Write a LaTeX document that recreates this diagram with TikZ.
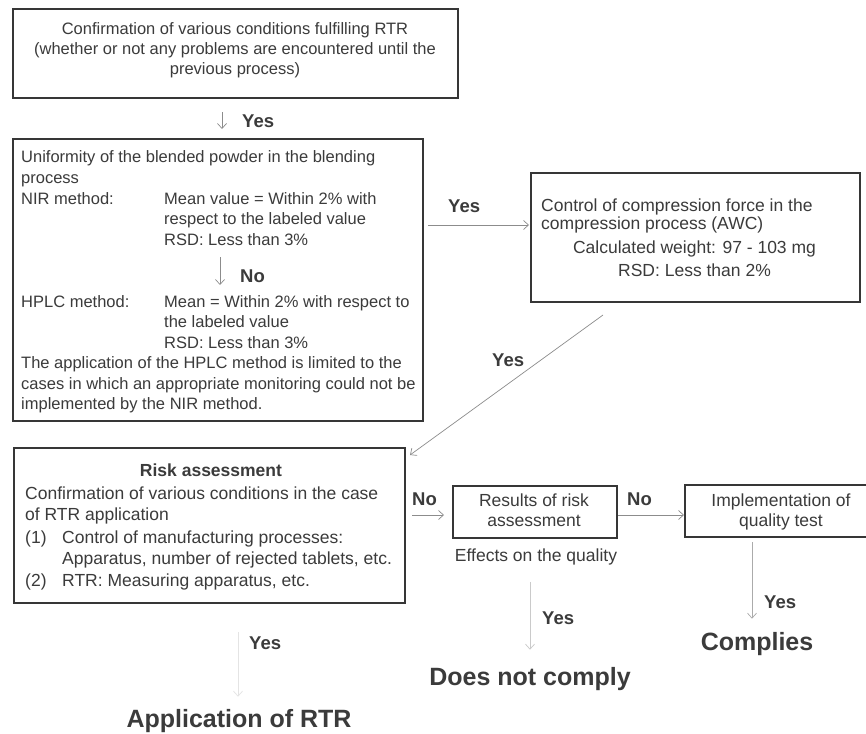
\documentclass[tikz,border=0pt]{standalone}
\usepackage{fontspec}
\setmainfont{Liberation Sans}
\usetikzlibrary{arrows.meta}
\definecolor{ink}{HTML}{3B3B3B}
\definecolor{rule}{HTML}{363636}
\definecolor{wire}{HTML}{8C8C8C}
\definecolor{mid}{HTML}{ABABAB}
\definecolor{pale}{HTML}{CACACA}
\definecolor{paler}{HTML}{E4E4E4}
\begin{document}
\begin{tikzpicture}[x=1pt,y=-1pt,
  box/.style={draw=rule, line width=2.2pt, inner sep=0pt, anchor=north west},
  fA/.style={font=\fontsize{16.5}{20}\selectfont},
  fB/.style={font=\fontsize{17.5}{21}\selectfont},
  txt/.style={inner sep=0pt, text=ink, anchor=base west},
  ctr/.style={inner sep=0pt, text=ink, anchor=base},
  lab/.style={inner sep=0pt, text=ink, anchor=base west, font=\fontsize{18.5}{22}\selectfont\bfseries},
  big/.style={inner sep=0pt, text=ink, anchor=base, font=\fontsize{25}{30}\selectfont\bfseries},
  flow/.style={draw=wire, line width=0.7pt, -{Straight Barb[length=5pt, width=9pt, line width=0.7pt]}},
  ]
\useasboundingbox[fill=white] (0,0) rectangle (866,733);

% ---------- boxes ----------
\node[box, minimum width=445pt, minimum height=89pt]  (b1) at (12,8) {};
\node[box, minimum width=410pt, minimum height=282pt] (b2) at (12,138) {};
\node[box, minimum width=329pt, minimum height=129pt] (b3) at (530,172) {};
\node[box, minimum width=391pt, minimum height=155pt] (b4) at (13,447) {};
\node[box, minimum width=164pt, minimum height=52pt]  (b5) at (452,485) {};
\node[box, minimum width=186pt, minimum height=52pt]  (b6) at (684,484) {};

% ---------- starting conditions ----------
\node[ctr, fA] (t11) at (235,35) {Confirmation of various conditions fulfilling RTR};
\node[ctr, fA] (t12) at (235,55) {(whether or not any problems are encountered until the};
\node[ctr, fA] (t13) at (235,75) {previous process)};

\coordinate (y1a) at (222,112);
\coordinate (y1b) at (222,129);
\draw[flow] (y1a) -- (y1b);
\node[lab] (yes1) at (242,127) {Yes};

% ---------- blending uniformity ----------
\node[txt, fA] (t21) at (21,162) {Uniformity of the blended powder in the blending};
\node[txt, fA] (t22) at (21,183) {process};
\node[txt, fA] (t23) at (21,204) {NIR method:};
\node[txt, fA] (t24) at (164,204) {Mean value = Within 2\% with};
\node[txt, fA] (t25) at (164,224.5) {respect to the labeled value};
\node[txt, fA] (t26) at (164,245) {RSD: Less than 3\%};
\coordinate (no1a) at (220,257);
\coordinate (no1b) at (220,285);
\draw[flow] (no1a) -- (no1b);
\node[lab] (no1) at (240,282) {No};
\node[txt, fA] (t27) at (21,307) {HPLC method:};
\node[txt, fA] (t28) at (164,307) {Mean = Within 2\% with respect to};
\node[txt, fA] (t29) at (164,327.5) {the labeled value};
\node[txt, fA] (t210) at (164,348) {RSD: Less than 3\%};
\node[txt, fA] (t211) at (21,368.5) {The application of the HPLC method is limited to the};
\node[txt, fA] (t212) at (21,389) {cases in which an appropriate monitoring could not be};
\node[txt, fA] (t213) at (21,409.5) {implemented by the NIR method.};

% ---------- compression control ----------
\node[txt, fB] (t31) at (541,211) {Control of compression force in the};
\node[txt, fB] (t32) at (541,229) {compression process (AWC)};
\node[ctr, fB] (t33) at (694.5,253) {Calculated weight: 97 - 103 mg};
\node[ctr, fB] (t34) at (694.5,276) {RSD: Less than 2\%};

\coordinate (ry) at (0,225);
\draw[flow, shorten <=4pt, shorten >=1pt] (b2.east |- ry) -- (b3.west |- ry);
\node[lab] (yes2) at (448,212) {Yes};

\coordinate (dg1) at (603,315);
\coordinate (dg2) at (410,455);
\draw[flow] (dg1) -- (dg2);
\node[lab] (yes3) at (492,366) {Yes};

% ---------- risk assessment ----------
\node[ctr, fB, font=\fontsize{17.5}{21}\selectfont\bfseries] (t41) at (211,476) {Risk assessment};
\node[txt, fB] (t42) at (25,499) {Confirmation of various conditions in the case};
\node[txt, fB] (t43) at (25,520) {of RTR application};
\node[txt, fB] (t44) at (25,543) {(1)};
\node[txt, fB] (t45) at (62,543) {Control of manufacturing processes:};
\node[txt, fB] (t46) at (62,564) {Apparatus, number of rejected tablets, etc.};
\node[txt, fB] (t47) at (25,586) {(2)};
\node[txt, fB] (t48) at (62,586) {RTR: Measuring apparatus, etc.};

\coordinate (rn) at (0,515);
\draw[flow, shorten <=6pt, shorten >=8pt] (b4.east |- rn) -- (b5.west |- rn);
\node[lab] (no2) at (412,505) {No};

\node[ctr, fB] (t51) at (534,506) {Results of risk};
\node[ctr, fB] (t52) at (534,526) {assessment};
\node[ctr, fB] (eff) at (536,561) {Effects on the quality};

\draw[flow] (b5.east |- rn) -- (b6.west |- rn);
\node[lab] (no3) at (627,505) {No};

\node[ctr, fB] (t61) at (781,506) {Implementation of};
\node[ctr, fB] (t62) at (781,526) {quality test};

% ---------- outcomes ----------
\node[big] (app) at (239,727) {Application of RTR};
\node[big] (dnc) at (530,685) {Does not comply};
\node[big] (cmp) at (757,650) {Complies};

\coordinate (cl) at (238,0);
\draw[flow, draw=paler, shorten <=28pt, shorten >=12pt] (b4.south -| cl) -- (app.north -| cl);
\node[lab] (yes4) at (249,649) {Yes};

\coordinate (cm) at (530,0);
\draw[flow, draw=pale, shorten <=17pt, shorten >=17pt] (eff.south -| cm) -- (dnc.north -| cm);
\node[lab] (yes5) at (542,624) {Yes};

\coordinate (cr) at (752,0);
\draw[flow, draw=mid, shorten <=4pt, shorten >=13pt] (b6.south -| cr) -- (cmp.north -| cr);
\node[lab] (yes6) at (764,608) {Yes};
\end{tikzpicture}
\end{document}
